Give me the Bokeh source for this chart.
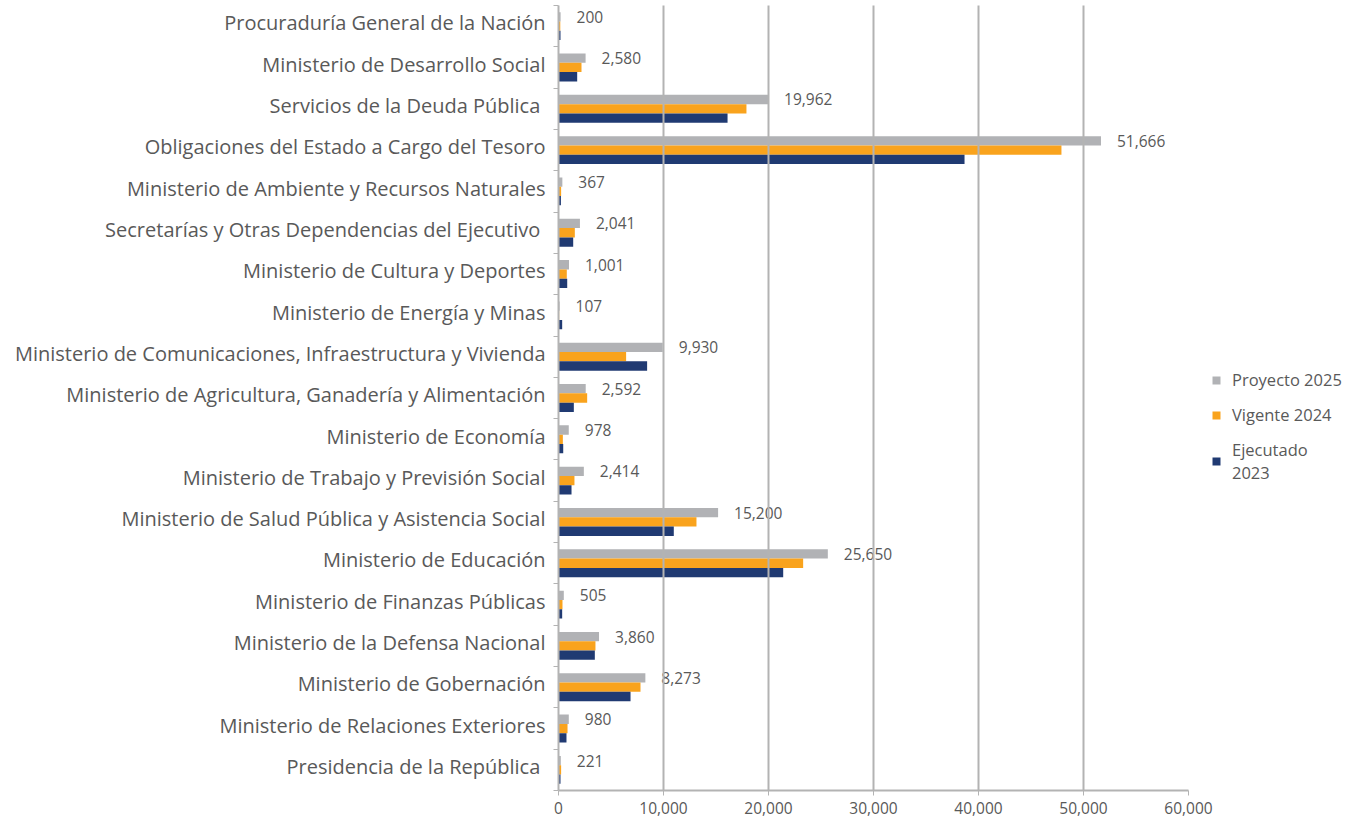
from bokeh.plotting import figure
from bokeh.models import ColumnDataSource, Range1d, FixedTicker, Legend, LegendItem, NumeralTickFormatter
from bokeh.core.properties import value
from bokeh.embed import file_html
from bokeh.resources import INLINE
import numpy as np

categories = [
    "Procuraduría General de la Nación",
    "Ministerio de Desarrollo Social",
    "Servicios de la Deuda  Pública",
    "Obligaciones del Estado a Cargo del Tesoro",
    "Ministerio de Ambiente y Recursos Naturales",
    "Secretarías y Otras  Dependencias del Ejecutivo",
    "Ministerio de Cultura y Deportes",
    "Ministerio de Energía y Minas",
    "Ministerio de Comunicaciones, Infraestructura y Vivienda",
    "Ministerio de Agricultura, Ganadería y Alimentación",
    "Ministerio de Economía",
    "Ministerio de Trabajo y Previsión Social",
    "Ministerio de Salud Pública y Asistencia Social",
    "Ministerio de Educación",
    "Ministerio de Finanzas Públicas",
    "Ministerio de la Defensa Nacional",
    "Ministerio de Gobernación",
    "Ministerio de Relaciones Exteriores",
    "Presidencia  de la República",
]
proyecto_2025 = [200, 2580, 19962, 51666, 367, 2041, 1001, 107, 9930, 2592,
                 978, 2414, 15200, 25650, 505, 3860, 8273, 980, 221]
vigente_2024 = [170, 2190, 17900, 47900, 250, 1555, 790, 60, 6440, 2730,
                415, 1520, 13140, 23300, 380, 3520, 7810, 860, 250]
ejecutado_2023 = [190, 1780, 16100, 38670, 230, 1400, 830, 350, 8440, 1460,
                  450, 1240, 10980, 21400, 350, 3460, 6860, 760, 190]
x_ticks = [0, 10000, 20000, 30000, 40000, 50000, 60000]
series_names = ["Proyecto 2025", "Vigente 2024", "Ejecutado\n2023"]
colors = ["#b1b2b5", "#f9a31d", "#203a72"]

FONT = "Open Sans"
TXT = "#595959"
GRID = "#b3b3b3"

n = len(categories)
centers = np.arange(n) + 0.5
bar_h = 0.225
label_pos = centers - 0.08

src = ColumnDataSource(dict(
    y_p=centers - bar_h, y_v=centers, y_e=centers + bar_h,
    p=proyecto_2025, v=vigente_2024, e=ejecutado_2023,
    lab=[f"{x:,}" for x in proyecto_2025],
))

p = figure(frame_width=630, frame_height=785, width=1340, height=818,
           x_range=Range1d(0, 60000), y_range=Range1d(n, 0),
           output_backend="svg", toolbar_location=None,
           min_border_left=558, min_border_right=152, min_border_top=5, min_border_bottom=28)
p.outline_line_color = None

r1 = p.hbar(y="y_p", right="p", left=0, height=bar_h, source=src, fill_color=colors[0], line_color=None)
r2 = p.hbar(y="y_v", right="v", left=0, height=bar_h, source=src, fill_color=colors[1], line_color=None)
r3 = p.hbar(y="y_e", right="e", left=0, height=bar_h, source=src, fill_color=colors[2], line_color=None)

p.text(x="p", y="y_p", text="lab", source=src, x_offset=16, y_offset=0,
       text_font=value(FONT), text_font_size="15.5px", text_color=TXT,
       text_baseline="middle", text_align="left")

# y axis: labels at centres, tick marks at boundaries
p.yaxis.ticker = FixedTicker(ticks=list(label_pos), minor_ticks=list(np.arange(n + 1)))
p.yaxis.major_label_overrides = {float(c): name for c, name in zip(label_pos, categories)}
p.yaxis.major_tick_out = 0
p.yaxis.major_tick_in = 0
p.yaxis.minor_tick_out = 5
p.yaxis.minor_tick_in = 0
p.yaxis.minor_tick_line_color = GRID
p.yaxis.axis_line_color = GRID
p.yaxis.axis_line_width = 2
p.yaxis.major_label_standoff = 8
p.yaxis.major_label_text_font = FONT
p.yaxis.major_label_text_font_size = "20px"
p.yaxis.major_label_text_color = TXT

p.xaxis.ticker = FixedTicker(ticks=x_ticks)
p.xaxis.formatter = NumeralTickFormatter(format="0,0")
p.xaxis.axis_line_color = GRID
p.xaxis.axis_line_width = 2
p.xaxis.major_tick_line_color = GRID
p.xaxis.major_tick_out = 5
p.xaxis.major_tick_in = 0
p.xaxis.minor_tick_line_color = None
p.xaxis.major_label_text_font = FONT
p.xaxis.major_label_text_font_size = "15.5px"
p.xaxis.major_label_text_color = TXT
p.xaxis.major_label_standoff = 6

p.ygrid.grid_line_color = None
p.xgrid.ticker = FixedTicker(ticks=x_ticks[1:])
p.xgrid.grid_line_color = GRID
p.xgrid.grid_line_width = 2
p.xgrid.level = "annotation"

legend = Legend(items=[
    LegendItem(label=series_names[0], renderers=[r1]),
    LegendItem(label=series_names[1], renderers=[r2]),
    LegendItem(label=series_names[2], renderers=[r3]),
], location=(23, 306), border_line_color=None, background_fill_alpha=0,
    label_text_font=FONT, label_text_font_size="16.5px", label_text_color=TXT,
    label_text_line_height=0.9, label_height=18,
    glyph_width=10, glyph_height=10, spacing=12, padding=0, margin=0, label_standoff=11)
p.add_layout(legend, "right")

open("out.html", "w").write(file_html(p, INLINE))
